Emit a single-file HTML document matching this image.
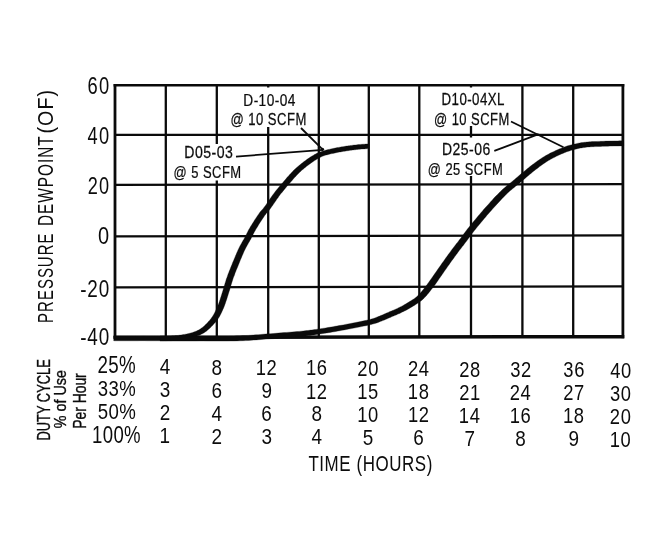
<!DOCTYPE html>
<html><head><meta charset="utf-8">
<style>
html,body{margin:0;padding:0;background:#fff;}
body{width:650px;height:535px;overflow:hidden;font-family:"Liberation Sans",sans-serif;}
svg{display:block;filter:grayscale(1);}
text{font-family:"Liberation Sans",sans-serif;fill:#0c0c0c;}
</style></head><body>
<svg width="650" height="535" viewBox="0 0 650 535">
<rect width="650" height="535" fill="#fff"/>
<g stroke="#0a0a0a" stroke-width="2.3" fill="none">
<line x1="165.8" y1="85.3" x2="165.8" y2="336.8"/>
<line x1="216.8" y1="85.3" x2="216.8" y2="336.8"/>
<line x1="268.2" y1="85.3" x2="268.2" y2="336.8"/>
<line x1="318.8" y1="85.3" x2="318.8" y2="336.8"/>
<line x1="368.8" y1="85.3" x2="368.8" y2="336.8"/>
<line x1="419.3" y1="85.3" x2="419.3" y2="336.8"/>
<line x1="471.0" y1="85.3" x2="471.0" y2="336.8"/>
<line x1="522.4" y1="85.3" x2="522.4" y2="336.8"/>
<line x1="573.2" y1="85.3" x2="573.2" y2="336.8"/>
<line x1="115.0" y1="134.9" x2="622.9" y2="134.8"/>
<line x1="115.0" y1="184.9" x2="622.9" y2="184.1"/>
<line x1="115.0" y1="236.3" x2="622.9" y2="235.4"/>
<line x1="115.0" y1="287.3" x2="622.9" y2="286.4"/>
</g>
<g stroke="#0a0a0a" fill="none">
<line x1="115.0" y1="84.05" x2="115.0" y2="338.5" stroke-width="2.8"/>
<line x1="622.9" y1="84.05" x2="622.9" y2="338.2" stroke-width="2.8"/>
<line x1="113.6" y1="85.3" x2="624.3" y2="85.3" stroke-width="2.6"/>
<line x1="113.6" y1="337.3" x2="624.3" y2="336.7" stroke-width="3.5"/>
</g>
<g fill="#fff">
<rect x="228" y="87.5" width="82" height="39.5"/>
<rect x="171" y="144" width="73" height="36.5"/>
<rect x="431" y="87.5" width="81" height="38.5"/>
<rect x="425" y="137.5" width="80" height="38.5"/>
</g>
<g fill="#0a0a0a" stroke="#0a0a0a" stroke-width="0.3" stroke-linejoin="round">
<path d="M113.7,340.7 L115.0,340.8 L116.5,340.8 L118.4,340.8 L120.5,340.8 L122.7,340.8 L125.1,340.8 L127.6,340.8 L130.1,340.8 L132.7,340.8 L135.2,340.8 L137.7,340.8 L140.0,340.7 L142.3,340.7 L144.7,340.7 L147.2,340.8 L149.7,340.8 L152.3,340.8 L154.8,340.8 L157.3,340.8 L159.7,340.8 L162.0,340.7 L164.2,340.7 L166.2,340.7 L168.1,340.6 L169.7,340.6 L171.2,340.6 L172.5,340.5 L173.7,340.5 L174.8,340.4 L175.9,340.3 L176.9,340.2 L177.8,340.2 L178.8,340.1 L179.8,339.9 L180.8,339.8 L181.9,339.6 L183.0,339.5 L184.1,339.3 L185.3,339.1 L186.5,338.9 L187.6,338.6 L188.8,338.4 L189.9,338.1 L191.0,337.9 L192.1,337.6 L193.2,337.3 L194.2,337.0 L195.1,336.7 L196.1,336.4 L196.9,336.1 L197.8,335.8 L198.6,335.5 L199.4,335.2 L200.1,334.9 L200.9,334.5 L201.6,334.1 L202.3,333.8 L203.0,333.4 L203.7,332.9 L204.5,332.5 L205.2,332.0 L206.0,331.4 L206.7,330.9 L207.4,330.3 L208.1,329.7 L208.8,329.1 L209.5,328.5 L210.1,327.9 L210.8,327.3 L211.4,326.6 L212.0,326.0 L212.6,325.4 L213.1,324.8 L213.7,324.2 L214.2,323.6 L214.8,323.0 L215.3,322.4 L215.8,321.8 L216.3,321.1 L216.8,320.5 L217.4,319.8 L217.9,319.1 L218.4,318.3 L218.9,317.5 L219.4,316.7 L219.8,315.9 L220.3,315.0 L220.8,314.1 L221.2,313.2 L221.7,312.3 L222.1,311.3 L222.5,310.4 L222.9,309.4 L223.4,308.4 L223.8,307.4 L224.2,306.4 L224.6,305.4 L225.0,304.3 L225.4,303.3 L225.7,302.2 L226.1,301.1 L226.5,300.0 L226.8,298.9 L227.2,297.8 L227.5,296.7 L227.9,295.6 L228.2,294.5 L228.6,293.3 L228.9,292.2 L229.3,291.0 L229.7,289.9 L230.0,288.7 L230.3,287.5 L230.7,286.4 L231.0,285.2 L231.4,284.0 L231.7,282.9 L232.1,281.7 L232.5,280.6 L232.8,279.4 L233.2,278.3 L233.6,277.1 L234.1,276.0 L234.5,274.9 L234.9,273.7 L235.3,272.6 L235.8,271.4 L236.2,270.3 L236.7,269.1 L237.2,267.9 L237.7,266.8 L238.2,265.6 L238.7,264.3 L239.2,263.1 L239.7,261.8 L240.2,260.5 L240.7,259.2 L241.3,258.0 L241.8,256.7 L242.3,255.4 L242.9,254.2 L243.4,253.0 L243.9,251.8 L244.4,250.7 L245.0,249.6 L245.5,248.6 L246.0,247.6 L246.6,246.5 L247.1,245.5 L247.7,244.6 L248.2,243.6 L248.8,242.6 L249.3,241.7 L249.8,240.7 L250.4,239.8 L250.9,238.9 L251.3,238.1 L251.7,237.3 L252.1,236.5 L252.5,235.8 L252.8,235.1 L253.1,234.4 L253.5,233.8 L253.8,233.1 L254.1,232.4 L254.5,231.7 L255.0,230.9 L255.5,230.0 L256.0,229.1 L256.7,228.0 L257.4,226.9 L258.1,225.7 L258.8,224.5 L259.6,223.3 L260.4,222.1 L261.1,220.9 L261.9,219.8 L262.6,218.7 L263.3,217.7 L263.9,216.8 L264.4,216.0 L264.9,215.3 L265.4,214.7 L265.8,214.2 L266.2,213.6 L266.7,213.1 L267.1,212.6 L267.6,212.1 L268.1,211.5 L268.7,210.8 L269.3,210.1 L269.9,209.2 L270.6,208.3 L271.3,207.3 L272.0,206.3 L272.8,205.2 L273.5,204.1 L274.3,203.0 L275.1,201.8 L275.9,200.7 L276.6,199.5 L277.4,198.4 L278.2,197.4 L278.9,196.3 L279.7,195.3 L280.4,194.3 L281.2,193.3 L282.0,192.4 L282.8,191.4 L283.6,190.4 L284.4,189.4 L285.2,188.5 L286.0,187.5 L286.8,186.5 L287.6,185.6 L288.5,184.6 L289.3,183.7 L290.1,182.8 L290.9,181.8 L291.7,180.9 L292.5,179.9 L293.3,179.0 L294.1,178.1 L294.9,177.2 L295.7,176.4 L296.5,175.5 L297.2,174.7 L298.0,174.0 L298.7,173.2 L299.4,172.5 L300.1,171.9 L300.8,171.2 L301.5,170.6 L302.1,170.0 L302.8,169.4 L303.5,168.9 L304.2,168.3 L304.9,167.7 L305.6,167.2 L306.3,166.6 L307.0,166.0 L307.7,165.5 L308.4,165.0 L309.1,164.4 L309.8,163.9 L310.5,163.4 L311.2,162.9 L311.9,162.4 L312.6,161.9 L313.3,161.5 L313.9,161.0 L314.6,160.6 L315.2,160.2 L315.9,159.8 L316.5,159.4 L317.0,159.0 L317.6,158.7 L318.2,158.4 L318.7,158.1 L319.3,157.7 L319.9,157.4 L320.5,157.2 L321.1,156.9 L321.7,156.6 L322.4,156.3 L323.1,156.1 L323.8,155.8 L324.5,155.6 L325.2,155.3 L326.0,155.1 L326.7,154.9 L327.6,154.7 L328.4,154.5 L329.2,154.3 L330.1,154.0 L331.0,153.8 L332.0,153.6 L333.0,153.4 L334.0,153.2 L335.0,153.0 L336.1,152.7 L337.2,152.5 L338.3,152.3 L339.4,152.1 L340.5,151.9 L341.6,151.7 L342.7,151.5 L343.8,151.3 L344.9,151.2 L345.9,151.0 L347.0,150.8 L348.1,150.7 L349.1,150.5 L350.2,150.3 L351.3,150.2 L352.3,150.1 L353.4,149.9 L354.5,149.8 L355.5,149.7 L356.6,149.5 L357.6,149.4 L358.8,149.3 L359.9,149.2 L361.1,149.1 L362.3,149.0 L363.5,148.9 L364.7,148.9 L365.7,148.8 L366.7,148.7 L367.6,148.6 L368.4,148.6 L369.0,148.5 L368.6,143.9 L368.0,143.9 L367.3,144.0 L366.4,144.0 L365.4,144.1 L364.3,144.2 L363.2,144.2 L362.0,144.3 L360.8,144.4 L359.5,144.5 L358.3,144.6 L357.2,144.7 L356.0,144.9 L355.0,145.0 L353.9,145.1 L352.8,145.2 L351.7,145.4 L350.6,145.5 L349.5,145.7 L348.5,145.8 L347.4,146.0 L346.3,146.1 L345.2,146.3 L344.1,146.5 L343.0,146.7 L341.9,146.8 L340.8,147.0 L339.7,147.2 L338.6,147.4 L337.4,147.6 L336.3,147.8 L335.2,148.1 L334.1,148.3 L333.0,148.5 L332.0,148.7 L330.9,148.9 L330.0,149.2 L329.0,149.4 L328.1,149.6 L327.2,149.8 L326.4,150.0 L325.5,150.3 L324.7,150.5 L323.8,150.7 L323.0,150.9 L322.2,151.2 L321.4,151.4 L320.7,151.7 L319.9,152.0 L319.1,152.3 L318.4,152.6 L317.7,152.9 L317.0,153.2 L316.3,153.6 L315.7,153.9 L315.1,154.3 L314.4,154.6 L313.8,155.0 L313.1,155.4 L312.5,155.8 L311.8,156.2 L311.1,156.6 L310.4,157.1 L309.7,157.6 L308.9,158.1 L308.2,158.6 L307.4,159.1 L306.7,159.6 L305.9,160.2 L305.2,160.7 L304.4,161.3 L303.7,161.8 L302.9,162.4 L302.2,163.0 L301.5,163.5 L300.8,164.1 L300.1,164.7 L299.3,165.3 L298.6,165.9 L297.9,166.5 L297.1,167.2 L296.4,167.8 L295.6,168.5 L294.8,169.3 L294.0,170.0 L293.2,170.8 L292.4,171.7 L291.6,172.5 L290.8,173.4 L289.9,174.3 L289.1,175.3 L288.3,176.2 L287.4,177.1 L286.6,178.1 L285.8,179.1 L285.0,180.0 L284.1,181.0 L283.3,181.9 L282.5,182.9 L281.7,183.8 L280.9,184.8 L280.0,185.8 L279.2,186.7 L278.4,187.7 L277.6,188.7 L276.7,189.8 L275.9,190.8 L275.1,191.8 L274.3,192.9 L273.5,193.9 L272.7,195.1 L271.8,196.2 L271.0,197.4 L270.2,198.5 L269.4,199.7 L268.7,200.8 L267.9,201.9 L267.2,203.0 L266.5,204.0 L265.9,204.9 L265.3,205.8 L264.7,206.5 L264.2,207.2 L263.7,207.8 L263.3,208.4 L262.8,208.9 L262.4,209.4 L261.9,209.9 L261.4,210.5 L260.9,211.1 L260.3,211.8 L259.7,212.6 L259.1,213.4 L258.4,214.4 L257.7,215.4 L257.0,216.5 L256.2,217.7 L255.4,218.9 L254.6,220.1 L253.8,221.4 L253.1,222.6 L252.3,223.8 L251.6,224.9 L250.9,226.0 L250.3,227.0 L249.8,227.9 L249.3,228.8 L248.8,229.6 L248.4,230.3 L248.1,231.1 L247.7,231.8 L247.4,232.4 L247.0,233.1 L246.7,233.8 L246.3,234.5 L246.0,235.3 L245.5,236.1 L245.1,236.9 L244.6,237.8 L244.1,238.7 L243.6,239.7 L243.0,240.6 L242.5,241.6 L241.9,242.6 L241.3,243.7 L240.7,244.7 L240.1,245.8 L239.5,246.9 L239.0,248.1 L238.4,249.3 L237.8,250.5 L237.3,251.7 L236.7,253.0 L236.2,254.3 L235.6,255.6 L235.1,256.9 L234.5,258.2 L234.0,259.5 L233.5,260.8 L232.9,262.0 L232.4,263.2 L232.0,264.4 L231.5,265.6 L231.0,266.8 L230.5,268.0 L230.1,269.2 L229.6,270.3 L229.1,271.5 L228.7,272.7 L228.2,273.8 L227.8,275.0 L227.4,276.2 L227.0,277.4 L226.5,278.6 L226.1,279.8 L225.8,281.0 L225.4,282.2 L225.0,283.4 L224.7,284.6 L224.3,285.8 L224.0,286.9 L223.6,288.1 L223.3,289.2 L223.0,290.3 L222.6,291.5 L222.3,292.6 L221.9,293.7 L221.6,294.8 L221.2,295.9 L220.9,297.0 L220.5,298.1 L220.2,299.2 L219.8,300.2 L219.5,301.2 L219.1,302.2 L218.8,303.2 L218.4,304.2 L218.1,305.1 L217.7,306.1 L217.3,307.0 L216.9,307.9 L216.5,308.8 L216.1,309.7 L215.7,310.6 L215.3,311.4 L214.9,312.2 L214.5,313.0 L214.1,313.8 L213.7,314.5 L213.3,315.2 L212.9,315.8 L212.5,316.5 L212.1,317.1 L211.7,317.6 L211.3,318.2 L210.9,318.8 L210.4,319.3 L210.0,319.9 L209.5,320.4 L209.0,321.0 L208.4,321.6 L207.9,322.2 L207.4,322.8 L206.8,323.4 L206.2,323.9 L205.6,324.5 L205.1,325.1 L204.5,325.7 L203.9,326.2 L203.3,326.7 L202.7,327.2 L202.1,327.7 L201.5,328.1 L200.9,328.6 L200.3,329.0 L199.7,329.3 L199.2,329.7 L198.6,330.0 L198.0,330.3 L197.3,330.6 L196.7,330.9 L196.0,331.2 L195.3,331.5 L194.5,331.8 L193.7,332.1 L192.8,332.4 L191.8,332.7 L190.9,332.9 L189.9,333.2 L188.8,333.5 L187.7,333.7 L186.6,334.0 L185.5,334.2 L184.4,334.4 L183.3,334.6 L182.2,334.8 L181.1,335.0 L180.1,335.1 L179.1,335.2 L178.2,335.4 L177.3,335.5 L176.4,335.5 L175.5,335.6 L174.5,335.7 L173.5,335.8 L172.3,335.8 L171.0,335.9 L169.6,335.9 L167.9,336.0 L166.1,336.0 L164.1,336.0 L162.0,336.0 L159.7,336.1 L157.3,336.1 L154.8,336.1 L152.3,336.1 L149.7,336.1 L147.2,336.1 L144.7,336.0 L142.3,336.0 L140.0,336.1 L137.7,336.1 L135.2,336.1 L132.7,336.1 L130.1,336.1 L127.6,336.1 L125.1,336.1 L122.7,336.1 L120.5,336.1 L118.4,336.1 L116.5,336.1 L115.0,336.1 L113.7,336.1Z"/>
<path d="M160.0,341.0 L161.9,341.1 L164.3,341.1 L167.2,341.1 L170.4,341.1 L173.8,341.1 L177.5,341.1 L181.3,341.1 L185.2,341.1 L189.1,341.1 L192.9,341.1 L196.5,341.1 L200.0,341.0 L203.4,341.0 L206.8,341.1 L210.2,341.1 L213.7,341.1 L217.1,341.1 L220.6,341.1 L224.0,341.1 L227.4,341.1 L230.7,341.0 L233.9,341.0 L237.0,340.9 L240.1,340.8 L243.0,340.7 L245.8,340.6 L248.5,340.5 L251.1,340.3 L253.7,340.1 L256.2,339.9 L258.6,339.7 L261.1,339.5 L263.5,339.3 L266.0,339.1 L268.5,338.9 L271.0,338.7 L273.6,338.6 L276.3,338.4 L279.0,338.1 L281.7,337.9 L284.4,337.7 L287.2,337.5 L289.8,337.3 L292.4,337.1 L294.9,336.9 L297.4,336.7 L299.6,336.4 L301.7,336.2 L303.7,336.1 L305.4,335.9 L307.1,335.7 L308.5,335.5 L310.0,335.4 L311.3,335.2 L312.6,335.1 L313.9,334.9 L315.3,334.7 L316.7,334.5 L318.2,334.3 L319.8,334.0 L321.5,333.8 L323.2,333.5 L324.9,333.3 L326.7,333.0 L328.4,332.7 L330.3,332.4 L332.1,332.1 L334.0,331.8 L335.9,331.4 L337.9,331.1 L339.9,330.7 L342.0,330.3 L344.1,329.9 L346.5,329.5 L348.9,329.0 L351.4,328.6 L354.0,328.1 L356.6,327.6 L359.1,327.1 L361.5,326.6 L363.9,326.1 L366.0,325.7 L368.0,325.2 L369.8,324.8 L371.3,324.5 L372.7,324.1 L373.8,323.8 L374.9,323.5 L375.8,323.3 L376.6,323.0 L377.4,322.7 L378.1,322.5 L378.7,322.2 L379.4,321.9 L380.1,321.6 L381.0,321.3 L381.8,321.0 L382.7,320.6 L383.6,320.3 L384.5,319.9 L385.3,319.6 L386.2,319.2 L387.0,318.8 L387.9,318.5 L388.7,318.1 L389.5,317.7 L390.3,317.4 L391.2,317.0 L392.0,316.6 L392.8,316.3 L393.7,315.9 L394.5,315.6 L395.4,315.2 L396.2,314.9 L397.1,314.5 L397.9,314.1 L398.8,313.8 L399.7,313.4 L400.5,313.0 L401.4,312.6 L402.3,312.1 L403.2,311.7 L404.0,311.3 L404.9,310.8 L405.8,310.4 L406.6,309.9 L407.5,309.4 L408.4,308.9 L409.2,308.4 L410.1,307.9 L410.9,307.4 L411.8,306.9 L412.6,306.4 L413.4,305.9 L414.3,305.4 L415.1,304.9 L416.0,304.3 L416.9,303.8 L417.7,303.2 L418.6,302.6 L419.5,302.0 L420.4,301.3 L421.3,300.7 L422.1,299.9 L423.0,299.2 L423.8,298.4 L424.6,297.6 L425.4,296.7 L426.2,295.9 L427.0,295.0 L427.7,294.1 L428.5,293.2 L429.2,292.3 L429.9,291.4 L430.6,290.5 L431.3,289.6 L432.1,288.6 L432.8,287.7 L433.5,286.8 L434.2,285.8 L434.9,284.9 L435.6,283.9 L436.3,282.9 L437.0,281.9 L437.7,280.9 L438.4,279.9 L439.1,278.8 L439.9,277.8 L440.6,276.7 L441.5,275.5 L442.3,274.3 L443.2,273.1 L444.0,271.8 L444.9,270.5 L445.8,269.3 L446.7,268.0 L447.5,266.8 L448.4,265.6 L449.2,264.5 L449.9,263.4 L450.7,262.3 L451.4,261.3 L452.1,260.3 L452.8,259.4 L453.5,258.4 L454.2,257.5 L454.8,256.6 L455.5,255.7 L456.1,254.8 L456.8,253.9 L457.5,253.0 L458.2,252.0 L458.9,251.1 L459.6,250.1 L460.3,249.2 L461.1,248.2 L461.8,247.3 L462.5,246.3 L463.3,245.4 L464.0,244.4 L464.7,243.5 L465.4,242.6 L466.1,241.7 L466.8,240.8 L467.4,240.0 L467.9,239.3 L468.4,238.6 L468.9,238.0 L469.3,237.4 L469.7,236.8 L470.2,236.2 L470.6,235.5 L471.2,234.8 L471.8,234.0 L472.5,233.0 L473.3,232.0 L474.2,230.8 L475.3,229.5 L476.4,228.1 L477.6,226.6 L478.9,225.0 L480.2,223.4 L481.6,221.8 L482.9,220.2 L484.3,218.5 L485.7,216.9 L487.0,215.3 L488.4,213.8 L489.7,212.2 L491.1,210.7 L492.5,209.1 L493.9,207.5 L495.3,206.0 L496.7,204.4 L498.1,202.9 L499.5,201.4 L500.9,199.9 L502.2,198.5 L503.5,197.2 L504.7,195.9 L505.9,194.7 L507.1,193.6 L508.2,192.6 L509.3,191.6 L510.4,190.6 L511.5,189.7 L512.5,188.8 L513.6,187.9 L514.8,187.0 L515.9,186.0 L517.2,185.0 L518.4,184.0 L519.7,182.9 L521.1,181.7 L522.5,180.6 L523.9,179.4 L525.3,178.2 L526.7,176.9 L528.2,175.7 L529.6,174.6 L531.0,173.4 L532.3,172.3 L533.6,171.2 L534.9,170.2 L536.1,169.3 L537.3,168.4 L538.5,167.5 L539.6,166.6 L540.8,165.8 L541.8,165.0 L542.9,164.2 L544.0,163.5 L545.1,162.7 L546.2,162.0 L547.3,161.3 L548.4,160.6 L549.5,160.0 L550.6,159.3 L551.7,158.7 L552.9,158.1 L554.0,157.5 L555.2,156.9 L556.3,156.3 L557.5,155.8 L558.6,155.2 L559.7,154.7 L560.8,154.3 L561.9,153.8 L562.9,153.4 L563.9,152.9 L564.9,152.5 L565.8,152.2 L566.7,151.8 L567.7,151.5 L568.6,151.2 L569.5,150.9 L570.5,150.6 L571.4,150.3 L572.4,150.0 L573.4,149.7 L574.4,149.5 L575.4,149.2 L576.4,149.0 L577.4,148.7 L578.4,148.5 L579.4,148.3 L580.4,148.1 L581.5,147.9 L582.6,147.7 L583.7,147.6 L584.8,147.4 L586.0,147.2 L587.2,147.1 L588.4,147.0 L589.7,146.9 L590.9,146.8 L592.3,146.7 L593.6,146.7 L595.0,146.6 L596.4,146.6 L597.8,146.5 L599.3,146.5 L600.8,146.4 L602.4,146.3 L604.1,146.3 L605.9,146.2 L607.9,146.2 L609.9,146.1 L612.0,146.1 L614.0,146.0 L616.0,146.0 L618.0,146.0 L619.7,145.9 L621.3,145.9 L622.6,145.9 L623.7,145.8 L623.5,140.8 L622.5,140.8 L621.2,140.8 L619.6,140.8 L617.9,140.9 L615.9,140.9 L613.9,140.9 L611.9,141.0 L609.8,141.0 L607.7,141.1 L605.8,141.1 L603.9,141.2 L602.2,141.3 L600.7,141.3 L599.1,141.4 L597.6,141.4 L596.2,141.5 L594.8,141.5 L593.4,141.6 L592.0,141.6 L590.6,141.7 L589.3,141.8 L588.0,141.9 L586.7,142.0 L585.4,142.2 L584.2,142.3 L583.0,142.5 L581.8,142.6 L580.6,142.8 L579.5,143.0 L578.4,143.2 L577.3,143.4 L576.3,143.7 L575.2,143.9 L574.1,144.1 L573.1,144.4 L572.0,144.7 L571.0,144.9 L569.9,145.2 L568.9,145.5 L567.9,145.8 L566.9,146.1 L565.9,146.5 L564.9,146.8 L563.9,147.2 L562.9,147.5 L561.9,147.9 L560.8,148.4 L559.7,148.8 L558.6,149.3 L557.5,149.8 L556.3,150.3 L555.2,150.8 L554.0,151.4 L552.8,151.9 L551.5,152.5 L550.3,153.1 L549.1,153.8 L547.9,154.4 L546.7,155.1 L545.4,155.8 L544.3,156.5 L543.1,157.2 L541.9,157.9 L540.8,158.7 L539.6,159.5 L538.5,160.3 L537.3,161.1 L536.2,161.9 L535.0,162.8 L533.8,163.7 L532.6,164.6 L531.3,165.6 L530.0,166.6 L528.6,167.7 L527.2,168.8 L525.8,170.0 L524.3,171.2 L522.9,172.4 L521.4,173.6 L520.0,174.8 L518.6,176.0 L517.2,177.2 L515.9,178.3 L514.6,179.4 L513.3,180.5 L512.2,181.4 L511.0,182.4 L509.9,183.3 L508.8,184.2 L507.6,185.1 L506.5,186.1 L505.4,187.1 L504.2,188.1 L503.0,189.1 L501.7,190.3 L500.5,191.5 L499.1,192.8 L497.8,194.2 L496.4,195.6 L494.9,197.1 L493.5,198.6 L492.1,200.2 L490.6,201.8 L489.2,203.4 L487.8,205.0 L486.4,206.5 L485.0,208.1 L483.6,209.6 L482.3,211.2 L480.9,212.8 L479.5,214.4 L478.1,216.1 L476.7,217.8 L475.3,219.4 L474.0,221.0 L472.7,222.6 L471.5,224.1 L470.3,225.5 L469.3,226.8 L468.3,228.0 L467.4,229.1 L466.7,230.0 L466.0,230.9 L465.4,231.7 L464.9,232.4 L464.4,233.0 L464.0,233.6 L463.6,234.2 L463.1,234.8 L462.7,235.5 L462.2,236.2 L461.6,237.0 L461.0,237.8 L460.3,238.7 L459.6,239.6 L458.9,240.5 L458.2,241.4 L457.5,242.4 L456.7,243.3 L456.0,244.3 L455.2,245.3 L454.5,246.2 L453.7,247.2 L453.0,248.2 L452.3,249.1 L451.6,250.0 L450.9,250.9 L450.3,251.9 L449.6,252.8 L448.9,253.7 L448.2,254.6 L447.6,255.6 L446.9,256.5 L446.1,257.5 L445.4,258.6 L444.7,259.6 L443.9,260.7 L443.0,261.9 L442.2,263.1 L441.3,264.3 L440.5,265.6 L439.6,266.8 L438.7,268.1 L437.8,269.3 L437.0,270.6 L436.1,271.8 L435.3,272.9 L434.5,274.0 L433.8,275.1 L433.0,276.2 L432.3,277.2 L431.6,278.2 L430.9,279.2 L430.3,280.1 L429.6,281.1 L428.9,282.0 L428.3,282.9 L427.6,283.8 L427.0,284.7 L426.3,285.6 L425.6,286.5 L424.9,287.4 L424.2,288.3 L423.5,289.2 L422.8,290.1 L422.1,290.9 L421.4,291.8 L420.8,292.6 L420.1,293.3 L419.4,294.1 L418.7,294.8 L418.1,295.5 L417.4,296.1 L416.7,296.7 L416.0,297.3 L415.2,297.9 L414.5,298.4 L413.7,299.0 L412.9,299.5 L412.1,300.0 L411.3,300.5 L410.5,301.1 L409.6,301.6 L408.8,302.1 L408.0,302.6 L407.2,303.1 L406.4,303.6 L405.6,304.1 L404.7,304.5 L403.9,305.0 L403.1,305.5 L402.3,305.9 L401.4,306.4 L400.6,306.8 L399.8,307.2 L399.0,307.6 L398.2,308.0 L397.4,308.4 L396.6,308.8 L395.7,309.2 L394.9,309.5 L394.1,309.9 L393.3,310.2 L392.4,310.6 L391.6,310.9 L390.7,311.3 L389.9,311.6 L389.0,312.0 L388.2,312.4 L387.3,312.7 L386.5,313.1 L385.7,313.5 L384.8,313.8 L384.0,314.2 L383.2,314.6 L382.4,314.9 L381.5,315.3 L380.7,315.6 L379.9,316.0 L379.0,316.3 L378.2,316.6 L377.4,316.9 L376.7,317.2 L376.1,317.4 L375.5,317.7 L374.8,318.0 L374.1,318.2 L373.3,318.5 L372.4,318.8 L371.3,319.1 L370.1,319.4 L368.6,319.8 L366.9,320.2 L365.0,320.6 L362.8,321.0 L360.5,321.5 L358.1,322.0 L355.6,322.5 L353.0,323.0 L350.5,323.5 L347.9,324.0 L345.5,324.4 L343.2,324.9 L341.0,325.3 L339.0,325.6 L337.0,326.0 L335.0,326.3 L333.1,326.7 L331.2,327.0 L329.4,327.3 L327.6,327.6 L325.8,327.9 L324.1,328.2 L322.4,328.4 L320.7,328.7 L319.0,329.0 L317.4,329.2 L316.0,329.4 L314.6,329.6 L313.2,329.8 L312.0,330.0 L310.7,330.1 L309.3,330.3 L308.0,330.5 L306.5,330.6 L304.9,330.8 L303.2,331.0 L301.3,331.2 L299.2,331.4 L296.9,331.6 L294.5,331.8 L292.0,332.0 L289.4,332.2 L286.8,332.4 L284.0,332.6 L281.3,332.8 L278.6,333.0 L275.9,333.3 L273.2,333.5 L270.6,333.7 L268.1,333.8 L265.6,334.0 L263.1,334.2 L260.7,334.5 L258.2,334.7 L255.8,334.8 L253.3,335.0 L250.8,335.2 L248.2,335.4 L245.5,335.5 L242.8,335.6 L239.9,335.8 L236.9,335.8 L233.8,335.9 L230.6,335.9 L227.3,336.0 L224.0,336.0 L220.6,336.0 L217.1,336.0 L213.7,336.0 L210.2,336.0 L206.8,336.0 L203.4,335.9 L200.0,336.0 L196.5,336.0 L192.9,336.0 L189.1,336.0 L185.2,336.0 L181.3,336.0 L177.5,336.0 L173.8,336.0 L170.4,336.0 L167.2,336.0 L164.4,336.0 L161.9,336.0 L160.0,336.0Z"/>
</g>
<g stroke="#0a0a0a" stroke-width="1.8" fill="none">
<line x1="301" y1="128" x2="323" y2="149.8"/>
<line x1="236" y1="156.6" x2="323" y2="149.8"/><circle cx="322.5" cy="149.3" r="1.6" fill="#0a0a0a" stroke="none"/>
<line x1="511" y1="121.5" x2="563.5" y2="147.2"/>
<line x1="494.3" y1="150.8" x2="538.6" y2="134.2"/>
</g>
<g>
<text transform="translate(87.53,93.77) scale(0.7932,1)" font-size="23.10" letter-spacing="1.51">60</text>
<text transform="translate(87.61,144.27) scale(0.7899,1)" font-size="23.10" letter-spacing="1.56">40</text>
<text transform="translate(87.74,194.47) scale(0.7852,1)" font-size="23.10" letter-spacing="1.51">20</text>
<text transform="translate(98.10,243.87) scale(0.8659,1)" font-size="23.10">0</text>
<text transform="translate(80.20,296.77) scale(0.8174,1)" font-size="23.10" letter-spacing="1.01">-20</text>
<text transform="translate(80.20,345.37) scale(0.8174,1)" font-size="23.10" letter-spacing="1.01">-40</text>
<text transform="translate(53.20,322.90) rotate(-90) scale(0.6888,1)" font-size="21.75" letter-spacing="1.46">PRESSURE</text>
<text transform="translate(53.20,226.04) rotate(-90) scale(0.7062,1)" font-size="21.75" letter-spacing="1.43">DEWPOINT</text>
<text transform="translate(53.20,133.47) rotate(-90) scale(0.8973,1)" font-size="21.75" letter-spacing="1.22">(OF)</text>
<text transform="translate(243.35,105.84) scale(0.8673,1)" font-size="15.77" stroke="#0c0c0c" stroke-width="0.25" letter-spacing="0.49">D-10-04</text>
<text transform="translate(230.44,124.80) scale(0.7964,1)" font-size="16.43" stroke="#0c0c0c" stroke-width="0.25" letter-spacing="0.58">@ 10 SCFM</text>
<text transform="translate(184.31,158.24) scale(0.8790,1)" font-size="16.06" stroke="#0c0c0c" stroke-width="0.25" letter-spacing="0.53">D05-03</text>
<text transform="translate(173.44,177.60) scale(0.7843,1)" font-size="16.57" stroke="#0c0c0c" stroke-width="0.25" letter-spacing="0.60">@ 5 SCFM</text>
<text transform="translate(441.58,105.14) scale(0.8204,1)" font-size="16.20" stroke="#0c0c0c" stroke-width="0.25" letter-spacing="0.54">D10-04XL</text>
<text transform="translate(433.94,124.80) scale(0.7969,1)" font-size="16.29" stroke="#0c0c0c" stroke-width="0.25" letter-spacing="0.58">@ 10 SCFM</text>
<text transform="translate(442.02,155.43) scale(0.8420,1)" font-size="16.62" stroke="#0c0c0c" stroke-width="0.25" letter-spacing="0.55">D25-06</text>
<text transform="translate(427.85,174.80) scale(0.7936,1)" font-size="16.29" stroke="#0c0c0c" stroke-width="0.25" letter-spacing="0.58">@ 25 SCFM</text>
<text transform="translate(97.44,372.80) scale(0.8157,1)" font-size="23.00" letter-spacing="0.45">25%</text>
<text transform="translate(97.83,395.90) scale(0.8123,1)" font-size="22.86" letter-spacing="0.45">33%</text>
<text transform="translate(97.64,419.00) scale(0.8165,1)" font-size="22.86" letter-spacing="0.45">50%</text>
<text transform="translate(92.07,442.50) scale(0.8044,1)" font-size="23.14" letter-spacing="0.39">100%</text>
<text transform="translate(308.44,471.00) scale(0.7558,1)" font-size="22.43" letter-spacing="0.74">TIME (HOURS)</text>
<text transform="translate(50.20,440.53) rotate(-90) scale(0.7050,1)" font-size="18.27" stroke="#0c0c0c" stroke-width="0.35">DUTY CYCLE</text>
<text transform="translate(66.00,428.13) rotate(-90) scale(0.8221,1)" font-size="17.40" stroke="#0c0c0c" stroke-width="0.35">% of Use</text>
<text transform="translate(86.10,428.81) rotate(-90) scale(0.7917,1)" font-size="17.55" stroke="#0c0c0c" stroke-width="0.35">Per Hour</text>
<text transform="translate(159.79,374.37) scale(0.8400,1)" font-size="22.54">4</text>
<text transform="translate(211.50,374.75) scale(0.8400,1)" font-size="22.54">8</text>
<text transform="translate(255.85,375.12) scale(0.8148,1)" font-size="22.54" letter-spacing="0.69">12</text>
<text transform="translate(305.95,375.48) scale(0.8148,1)" font-size="22.54" letter-spacing="0.70">16</text>
<text transform="translate(357.34,375.86) scale(0.8148,1)" font-size="22.54" letter-spacing="0.72">20</text>
<text transform="translate(407.95,376.23) scale(0.8148,1)" font-size="22.54" letter-spacing="0.72">24</text>
<text transform="translate(459.14,376.60) scale(0.8148,1)" font-size="22.54" letter-spacing="0.72">28</text>
<text transform="translate(510.13,376.97) scale(0.8148,1)" font-size="22.54" letter-spacing="0.72">32</text>
<text transform="translate(563.33,377.36) scale(0.8148,1)" font-size="22.54" letter-spacing="0.73">36</text>
<text transform="translate(610.13,377.70) scale(0.8148,1)" font-size="22.54" letter-spacing="0.74">40</text>
<text transform="translate(159.79,397.47) scale(0.8400,1)" font-size="22.54">3</text>
<text transform="translate(211.41,397.85) scale(0.8400,1)" font-size="22.54">6</text>
<text transform="translate(261.39,398.22) scale(0.8400,1)" font-size="22.54">9</text>
<text transform="translate(306.05,398.58) scale(0.8148,1)" font-size="22.54" letter-spacing="0.69">12</text>
<text transform="translate(357.15,398.96) scale(0.8148,1)" font-size="22.54" letter-spacing="0.70">15</text>
<text transform="translate(407.85,399.33) scale(0.8148,1)" font-size="22.54" letter-spacing="0.70">18</text>
<text transform="translate(459.24,399.70) scale(0.8148,1)" font-size="22.54" letter-spacing="0.71">21</text>
<text transform="translate(509.75,400.07) scale(0.8148,1)" font-size="22.54" letter-spacing="0.72">24</text>
<text transform="translate(563.24,400.46) scale(0.8148,1)" font-size="22.54" letter-spacing="0.71">27</text>
<text transform="translate(610.03,400.80) scale(0.8148,1)" font-size="22.54" letter-spacing="0.73">30</text>
<text transform="translate(159.70,420.37) scale(0.8400,1)" font-size="22.54">2</text>
<text transform="translate(211.59,420.75) scale(0.8400,1)" font-size="22.54">4</text>
<text transform="translate(261.21,421.12) scale(0.8400,1)" font-size="22.54">6</text>
<text transform="translate(311.50,421.48) scale(0.8400,1)" font-size="22.54">8</text>
<text transform="translate(357.15,421.86) scale(0.8148,1)" font-size="22.54" letter-spacing="0.70">10</text>
<text transform="translate(407.95,422.23) scale(0.8148,1)" font-size="22.54" letter-spacing="0.69">12</text>
<text transform="translate(458.86,422.60) scale(0.8148,1)" font-size="22.54" letter-spacing="0.71">14</text>
<text transform="translate(509.65,422.97) scale(0.8148,1)" font-size="22.54" letter-spacing="0.70">16</text>
<text transform="translate(562.95,423.36) scale(0.8148,1)" font-size="22.54" letter-spacing="0.70">18</text>
<text transform="translate(609.84,423.70) scale(0.8148,1)" font-size="22.54" letter-spacing="0.72">20</text>
<text transform="translate(159.51,443.27) scale(0.8400,1)" font-size="22.54">1</text>
<text transform="translate(211.50,443.65) scale(0.8400,1)" font-size="22.54">2</text>
<text transform="translate(261.39,444.02) scale(0.8400,1)" font-size="22.54">3</text>
<text transform="translate(311.59,444.38) scale(0.8400,1)" font-size="22.54">4</text>
<text transform="translate(362.70,444.76) scale(0.8400,1)" font-size="22.54">5</text>
<text transform="translate(413.31,445.13) scale(0.8400,1)" font-size="22.54">6</text>
<text transform="translate(464.50,445.50) scale(0.8400,1)" font-size="22.54">7</text>
<text transform="translate(515.20,445.87) scale(0.8400,1)" font-size="22.54">8</text>
<text transform="translate(568.59,446.26) scale(0.8400,1)" font-size="22.54">9</text>
<text transform="translate(609.65,446.60) scale(0.8148,1)" font-size="22.54" letter-spacing="0.70">10</text>
</g>
</svg>
</body></html>
